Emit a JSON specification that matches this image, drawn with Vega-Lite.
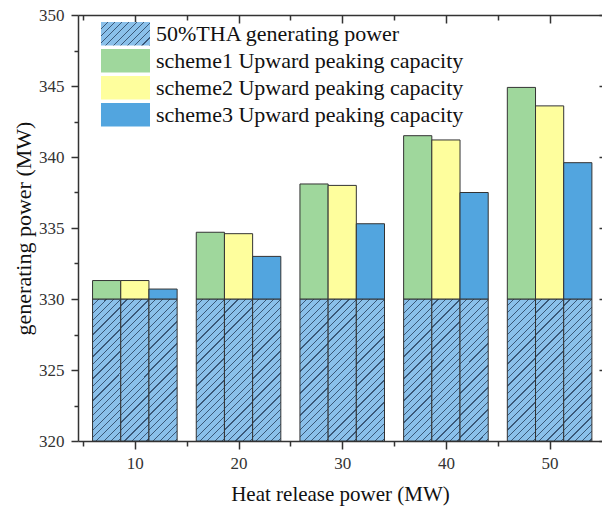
{
  "$schema": "https://vega.github.io/schema/vega-lite/v6.json",
  "width": 524,
  "height": 426,
  "autosize": {"type": "none"},
  "padding": {"left": 78, "top": 15, "right": 0, "bottom": 67},
  "background": "white",
  "params": [
    {"name": "hatch", "value": {"gradient": "linear", "x1": 0, "y1": 0, "x2": 0.229, "y2": 1.153, "stops": [
      {"offset": 0, "color": "#8ac0ea"}, {"offset": 0.036, "color": "#8ac0ea"}, {"offset": 0.036, "color": "#3a5878"}, {"offset": 0.043, "color": "#3a5878"},
      {"offset": 0.043, "color": "#8ac0ea"}, {"offset": 0.079, "color": "#8ac0ea"}, {"offset": 0.079, "color": "#3a5878"}, {"offset": 0.086, "color": "#3a5878"},
      {"offset": 0.086, "color": "#8ac0ea"}, {"offset": 0.122, "color": "#8ac0ea"}, {"offset": 0.122, "color": "#3a5878"}, {"offset": 0.129, "color": "#3a5878"},
      {"offset": 0.129, "color": "#8ac0ea"}, {"offset": 0.165, "color": "#8ac0ea"}, {"offset": 0.165, "color": "#3a5878"}, {"offset": 0.172, "color": "#3a5878"},
      {"offset": 0.172, "color": "#8ac0ea"}, {"offset": 0.208, "color": "#8ac0ea"}, {"offset": 0.208, "color": "#3a5878"}, {"offset": 0.215, "color": "#3a5878"},
      {"offset": 0.215, "color": "#8ac0ea"}, {"offset": 0.251, "color": "#8ac0ea"}, {"offset": 0.251, "color": "#3a5878"}, {"offset": 0.258, "color": "#3a5878"},
      {"offset": 0.258, "color": "#8ac0ea"}, {"offset": 0.294, "color": "#8ac0ea"}, {"offset": 0.294, "color": "#3a5878"}, {"offset": 0.301, "color": "#3a5878"},
      {"offset": 0.301, "color": "#8ac0ea"}, {"offset": 0.337, "color": "#8ac0ea"}, {"offset": 0.337, "color": "#3a5878"}, {"offset": 0.344, "color": "#3a5878"},
      {"offset": 0.344, "color": "#8ac0ea"}, {"offset": 0.380, "color": "#8ac0ea"}, {"offset": 0.380, "color": "#3a5878"}, {"offset": 0.387, "color": "#3a5878"},
      {"offset": 0.387, "color": "#8ac0ea"}, {"offset": 0.423, "color": "#8ac0ea"}, {"offset": 0.423, "color": "#3a5878"}, {"offset": 0.430, "color": "#3a5878"},
      {"offset": 0.430, "color": "#8ac0ea"}, {"offset": 0.466, "color": "#8ac0ea"}, {"offset": 0.466, "color": "#3a5878"}, {"offset": 0.473, "color": "#3a5878"},
      {"offset": 0.473, "color": "#8ac0ea"}, {"offset": 0.509, "color": "#8ac0ea"}, {"offset": 0.509, "color": "#3a5878"}, {"offset": 0.516, "color": "#3a5878"},
      {"offset": 0.516, "color": "#8ac0ea"}, {"offset": 0.552, "color": "#8ac0ea"}, {"offset": 0.552, "color": "#3a5878"}, {"offset": 0.559, "color": "#3a5878"},
      {"offset": 0.559, "color": "#8ac0ea"}, {"offset": 0.595, "color": "#8ac0ea"}, {"offset": 0.595, "color": "#3a5878"}, {"offset": 0.602, "color": "#3a5878"},
      {"offset": 0.602, "color": "#8ac0ea"}, {"offset": 0.638, "color": "#8ac0ea"}, {"offset": 0.638, "color": "#3a5878"}, {"offset": 0.645, "color": "#3a5878"},
      {"offset": 0.645, "color": "#8ac0ea"}, {"offset": 0.681, "color": "#8ac0ea"}, {"offset": 0.681, "color": "#3a5878"}, {"offset": 0.688, "color": "#3a5878"},
      {"offset": 0.688, "color": "#8ac0ea"}, {"offset": 0.724, "color": "#8ac0ea"}, {"offset": 0.724, "color": "#3a5878"}, {"offset": 0.731, "color": "#3a5878"},
      {"offset": 0.731, "color": "#8ac0ea"}, {"offset": 0.767, "color": "#8ac0ea"}, {"offset": 0.767, "color": "#3a5878"}, {"offset": 0.774, "color": "#3a5878"},
      {"offset": 0.774, "color": "#8ac0ea"}, {"offset": 0.810, "color": "#8ac0ea"}, {"offset": 0.810, "color": "#3a5878"}, {"offset": 0.817, "color": "#3a5878"},
      {"offset": 0.817, "color": "#8ac0ea"}, {"offset": 0.853, "color": "#8ac0ea"}, {"offset": 0.853, "color": "#3a5878"}, {"offset": 0.860, "color": "#3a5878"},
      {"offset": 0.860, "color": "#8ac0ea"}, {"offset": 0.896, "color": "#8ac0ea"}, {"offset": 0.896, "color": "#3a5878"}, {"offset": 0.903, "color": "#3a5878"},
      {"offset": 0.903, "color": "#8ac0ea"}, {"offset": 0.939, "color": "#8ac0ea"}, {"offset": 0.939, "color": "#3a5878"}, {"offset": 0.946, "color": "#3a5878"},
      {"offset": 0.946, "color": "#8ac0ea"}, {"offset": 0.982, "color": "#8ac0ea"}, {"offset": 0.982, "color": "#3a5878"}, {"offset": 0.989, "color": "#3a5878"},
      {"offset": 0.989, "color": "#8ac0ea"}, {"offset": 1, "color": "#8ac0ea"}
    ]}},
    {"name": "hatchLegend", "value": {"gradient": "linear", "x1": 0, "y1": 0, "x2": 1.203, "y2": 0.5745, "stops": [
      {"offset": 0, "color": "#8ac0ea"}, {"offset": 0.084, "color": "#8ac0ea"}, {"offset": 0.084, "color": "#3a5878"}, {"offset": 0.1, "color": "#3a5878"},
      {"offset": 0.1, "color": "#8ac0ea"}, {"offset": 0.184, "color": "#8ac0ea"}, {"offset": 0.184, "color": "#3a5878"}, {"offset": 0.2, "color": "#3a5878"},
      {"offset": 0.2, "color": "#8ac0ea"}, {"offset": 0.284, "color": "#8ac0ea"}, {"offset": 0.284, "color": "#3a5878"}, {"offset": 0.3, "color": "#3a5878"},
      {"offset": 0.3, "color": "#8ac0ea"}, {"offset": 0.384, "color": "#8ac0ea"}, {"offset": 0.384, "color": "#3a5878"}, {"offset": 0.4, "color": "#3a5878"},
      {"offset": 0.4, "color": "#8ac0ea"}, {"offset": 0.484, "color": "#8ac0ea"}, {"offset": 0.484, "color": "#3a5878"}, {"offset": 0.5, "color": "#3a5878"},
      {"offset": 0.5, "color": "#8ac0ea"}, {"offset": 0.584, "color": "#8ac0ea"}, {"offset": 0.584, "color": "#3a5878"}, {"offset": 0.6, "color": "#3a5878"},
      {"offset": 0.6, "color": "#8ac0ea"}, {"offset": 0.684, "color": "#8ac0ea"}, {"offset": 0.684, "color": "#3a5878"}, {"offset": 0.7, "color": "#3a5878"},
      {"offset": 0.7, "color": "#8ac0ea"}, {"offset": 0.784, "color": "#8ac0ea"}, {"offset": 0.784, "color": "#3a5878"}, {"offset": 0.8, "color": "#3a5878"},
      {"offset": 0.8, "color": "#8ac0ea"}, {"offset": 0.884, "color": "#8ac0ea"}, {"offset": 0.884, "color": "#3a5878"}, {"offset": 0.9, "color": "#3a5878"},
      {"offset": 0.9, "color": "#8ac0ea"}, {"offset": 0.984, "color": "#8ac0ea"}, {"offset": 0.984, "color": "#3a5878"}, {"offset": 1, "color": "#3a5878"}
    ]}}
  ],
  "data": {
    "values": [
      {"heat": 10, "scheme": "scheme1 Upward peaking capacity", "base": 330, "value": 331.3},
      {"heat": 10, "scheme": "scheme2 Upward peaking capacity", "base": 330, "value": 331.3},
      {"heat": 10, "scheme": "scheme3 Upward peaking capacity", "base": 330, "value": 330.7},
      {"heat": 20, "scheme": "scheme1 Upward peaking capacity", "base": 330, "value": 334.7},
      {"heat": 20, "scheme": "scheme2 Upward peaking capacity", "base": 330, "value": 334.6},
      {"heat": 20, "scheme": "scheme3 Upward peaking capacity", "base": 330, "value": 333.0},
      {"heat": 30, "scheme": "scheme1 Upward peaking capacity", "base": 330, "value": 338.1},
      {"heat": 30, "scheme": "scheme2 Upward peaking capacity", "base": 330, "value": 338.0},
      {"heat": 30, "scheme": "scheme3 Upward peaking capacity", "base": 330, "value": 335.3},
      {"heat": 40, "scheme": "scheme1 Upward peaking capacity", "base": 330, "value": 341.5},
      {"heat": 40, "scheme": "scheme2 Upward peaking capacity", "base": 330, "value": 341.2},
      {"heat": 40, "scheme": "scheme3 Upward peaking capacity", "base": 330, "value": 337.5},
      {"heat": 50, "scheme": "scheme1 Upward peaking capacity", "base": 330, "value": 344.9},
      {"heat": 50, "scheme": "scheme2 Upward peaking capacity", "base": 330, "value": 343.6},
      {"heat": 50, "scheme": "scheme3 Upward peaking capacity", "base": 330, "value": 339.6}
    ]
  },
  "resolve": {"axis": {"x": "independent", "y": "independent"}},
  "layer": [
    {
      "transform": [{"filter": {"field": "scheme", "equal": "scheme1 Upward peaking capacity"}}],
      "mark": {"type": "bar", "width": 28.19, "xOffset": -28.19, "stroke": "#333", "strokeWidth": 1, "fill": {"expr": "hatch"}},
      "encoding": {
        "x": {"field": "heat", "type": "quantitative",
          "scale": {"domain": [5, 54.57], "nice": false, "zero": false},
          "axis": {"orient": "bottom", "values": [10, 20, 30, 40, 50], "tickSize": 8, "labelPadding": 6,
            "title": "Heat release power (MW)", "titleFontSize": 21, "titlePadding": 12}},
        "y": {"field": "base", "type": "quantitative",
          "scale": {"domain": [320, 350], "nice": false, "zero": false},
          "axis": {"orient": "left", "values": [320, 325, 330, 335, 340, 345, 350], "tickSize": 7, "labelPadding": 7,
            "title": "generating power (MW)", "titleFontSize": 22, "titlePadding": 3}},
        "y2": {"datum": 320}
      }
    },
    {
      "transform": [{"filter": {"field": "scheme", "equal": "scheme1 Upward peaking capacity"}}],
      "mark": {"type": "bar", "width": 28.19, "xOffset": -28.19, "stroke": "#333", "strokeWidth": 1},
      "encoding": {
        "x": {"field": "heat", "type": "quantitative",
          "axis": {"orient": "bottom", "values": [5, 15, 25, 35, 45], "tickSize": 5, "labels": false, "domain": false, "title": null}},
        "y": {"field": "value", "type": "quantitative",
          "axis": {"orient": "left", "values": [322.5, 327.5, 332.5, 337.5, 342.5, 347.5], "tickSize": 4, "labels": false, "domain": false, "title": null}},
        "y2": {"field": "base"},
        "color": {"field": "scheme", "type": "nominal",
          "scale": {
            "domain": ["scheme1 Upward peaking capacity", "scheme2 Upward peaking capacity", "scheme3 Upward peaking capacity"],
            "range": ["#9fd79c", "#fefe9d", "#52a5df"]
          },
          "legend": null
        },
        "opacity": {"field": "scheme", "type": "ordinal",
          "scale": {
            "domain": ["50%THA generating power", "scheme1 Upward peaking capacity", "scheme2 Upward peaking capacity", "scheme3 Upward peaking capacity"],
            "range": [1, 1, 1, 1]
          },
          "legend": {
            "title": null, "orient": "none", "legendX": 23, "legendY": 6.2, "padding": 0,
            "symbolType": "M-2.042,-0.975H2.042V0.975H-2.042Z", "symbolSize": 576, "symbolOffset": 12,
            "symbolStrokeColor": "#333", "symbolStrokeWidth": 1,
            "labelFont": "Liberation Serif", "labelFontSize": 22, "labelColor": "#111", "labelOffset": 18, "labelLimit": 500,
            "rowPadding": -3.5
          }
        }
      }
    },
    {
      "transform": [{"filter": {"field": "scheme", "equal": "scheme2 Upward peaking capacity"}}],
      "mark": {"type": "bar", "width": 28.19, "xOffset": 0, "stroke": "#333", "strokeWidth": 1, "fill": {"expr": "hatch"}},
      "encoding": {
        "x": {"field": "heat", "type": "quantitative",
          "axis": {"orient": "top", "values": [10, 20, 30, 40, 50], "tickSize": -8, "labels": false, "domain": true, "title": null}},
        "y": {"field": "base", "type": "quantitative",
          "axis": {"orient": "right", "values": [320, 325, 330, 335, 340, 345, 350], "tickSize": -3, "labels": false, "domain": false, "title": null}},
        "y2": {"datum": 320}
      }
    },
    {
      "transform": [{"filter": {"field": "scheme", "equal": "scheme2 Upward peaking capacity"}}],
      "mark": {"type": "bar", "width": 28.19, "xOffset": 0, "stroke": "#333", "strokeWidth": 1},
      "encoding": {
        "x": {"field": "heat", "type": "quantitative",
          "axis": {"orient": "top", "values": [5, 15, 25, 35, 45], "tickSize": -5, "labels": false, "domain": false, "title": null}},
        "y": {"field": "value", "type": "quantitative", "axis": null},
        "y2": {"field": "base"},
        "color": {"field": "scheme", "type": "nominal", "legend": null}
      }
    },
    {
      "transform": [{"filter": {"field": "scheme", "equal": "scheme3 Upward peaking capacity"}}],
      "mark": {"type": "bar", "width": 28.19, "xOffset": 28.19, "stroke": "#333", "strokeWidth": 1, "fill": {"expr": "hatch"}},
      "encoding": {
        "x": {"field": "heat", "type": "quantitative", "axis": null},
        "y": {"field": "base", "type": "quantitative", "axis": null},
        "y2": {"datum": 320}
      }
    },
    {
      "transform": [{"filter": {"field": "scheme", "equal": "scheme3 Upward peaking capacity"}}],
      "mark": {"type": "bar", "width": 28.19, "xOffset": 28.19, "stroke": "#333", "strokeWidth": 1},
      "encoding": {
        "x": {"field": "heat", "type": "quantitative", "axis": null},
        "y": {"field": "value", "type": "quantitative", "axis": null},
        "y2": {"field": "base"},
        "color": {"field": "scheme", "type": "nominal", "legend": null}
      }
    }
  ],
  "config": {
    "view": {"stroke": null},
    "legend": {
      "symbolBaseFillColor": {"expr": "datum.value === '50%THA generating power' ? hatchLegend : scale('color', datum.value)"},
      "symbolBaseStrokeColor": "#333"
    },
    "axis": {
      "grid": false, "domainColor": "#333", "domainWidth": 1.5, "tickColor": "#333", "tickWidth": 1.5,
      "labelFont": "Liberation Serif", "labelFontSize": 17, "labelColor": "#333", "labelFlush": false,
      "titleFont": "Liberation Serif", "titleFontWeight": "normal", "titleColor": "#111"
    }
  }
}
